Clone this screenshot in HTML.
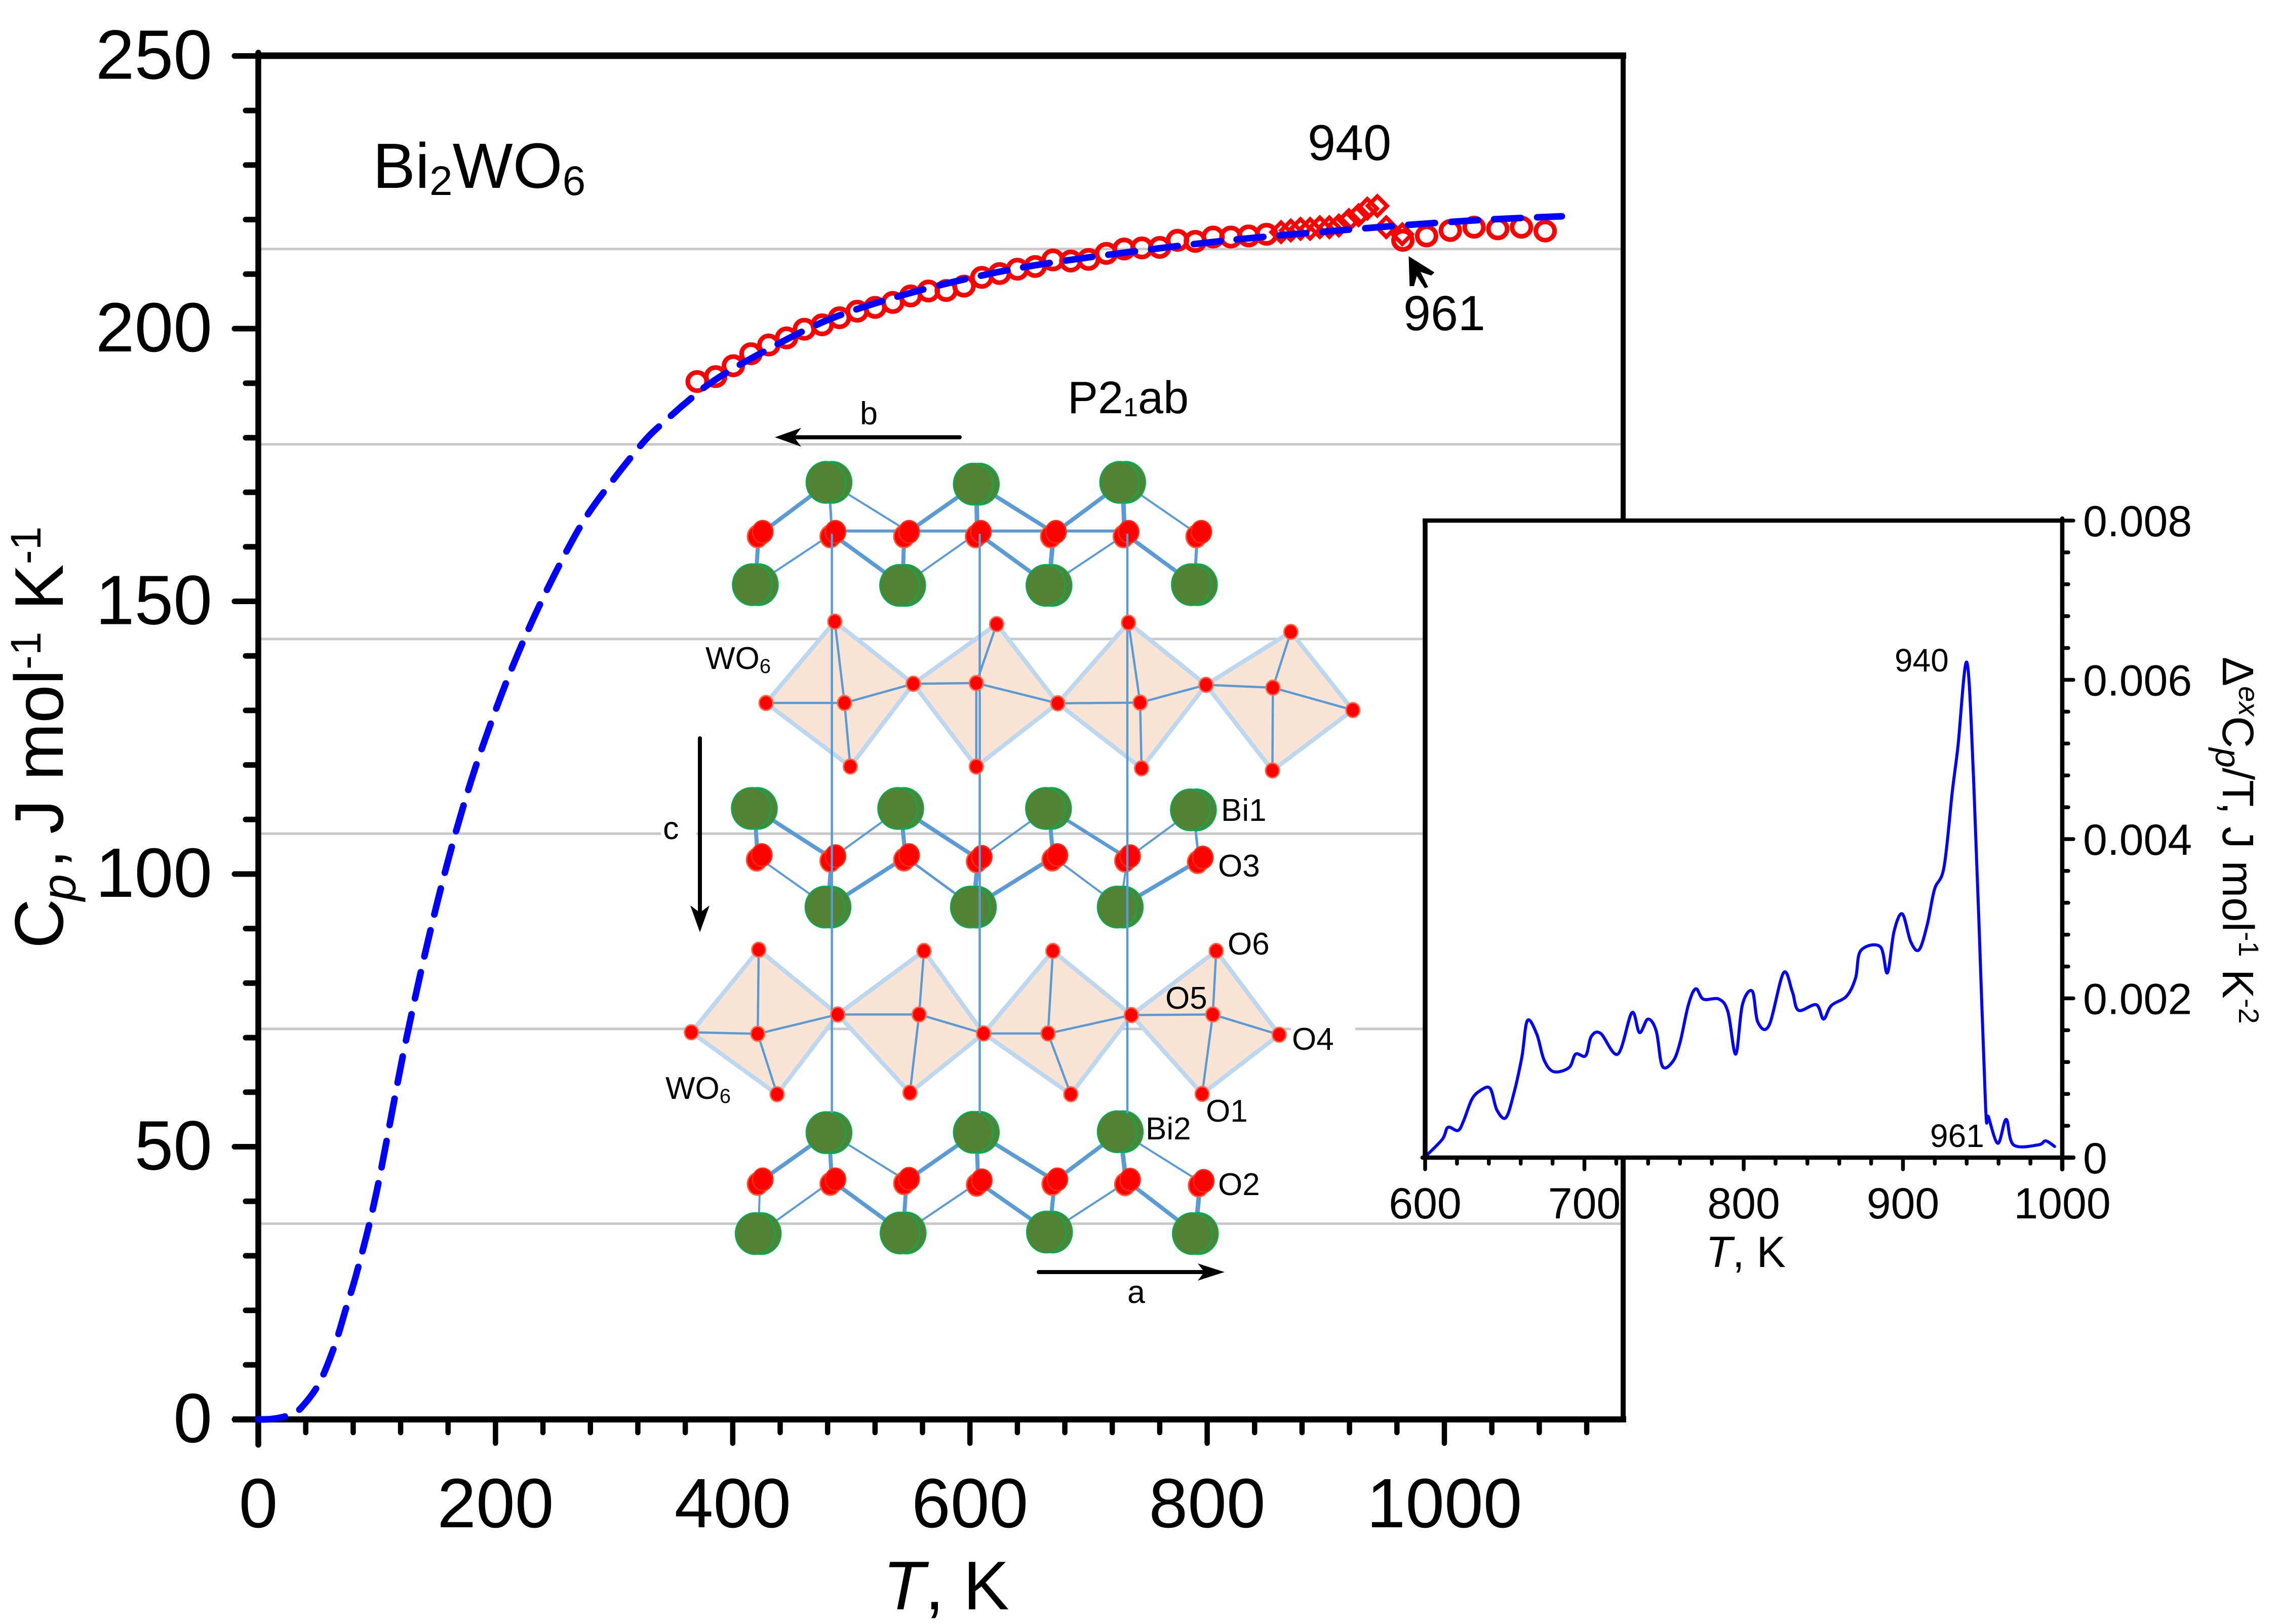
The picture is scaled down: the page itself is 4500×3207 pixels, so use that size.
<!DOCTYPE html>
<html lang="en">
<head>
<meta charset="utf-8">
<title>Bi2WO6 heat capacity</title>
<style>
html,body{margin:0;padding:0;background:#fff;}
svg{display:block;}
text{font-family:"Liberation Sans",sans-serif;fill:#000;}
</style>
</head>
<body>
<svg id="chart" xmlns="http://www.w3.org/2000/svg" width="4500" height="3207" viewBox="0 0 4500 3207">
<rect x="0" y="0" width="4500" height="3207" fill="#fff"/>
<g id="grid"></g>
<g id="mainAxes"></g>
<g id="mainData"></g>
<g id="crystal"></g>
<g id="crystalLabels" font-size="62">
<rect x="2549" y="2025" width="127" height="16" fill="#fff"/>
<rect x="1305" y="1640" width="70" height="16" fill="#fff"/>
<text x="1393" y="1321">WO<tspan font-size="40" dy="8">6</tspan></text>
<text x="1314" y="2170">WO<tspan font-size="40" dy="8">6</tspan></text>
<text x="2411" y="1621">Bi1</text>
<text x="2405" y="1731">O3</text>
<text x="2424" y="1885">O6</text>
<text x="2301" y="1992">O5</text>
<text x="2551" y="2073">O4</text>
<text x="2381" y="2215">O1</text>
<text x="2262" y="2250">Bi2</text>
<text x="2405" y="2360">O2</text>
<text x="1698" y="838" font-size="63">b</text>
<text x="1309" y="1657" font-size="63">c</text>
<text x="2226" y="2573" font-size="63">a</text>
<g><line x1="1895" y1="863.5" x2="1560" y2="863.5" stroke="#000" stroke-width="8" stroke-linecap="round"/><polygon points="1530,863.5 1582,845 1568,863.5 1582,882" fill="#000"/></g>
<g><line x1="1382" y1="1458" x2="1382" y2="1810" stroke="#000" stroke-width="8" stroke-linecap="round"/><polygon points="1382,1841 1363,1788 1382,1802 1401,1788" fill="#000"/></g>
<g><line x1="2051" y1="2512" x2="2390" y2="2512" stroke="#000" stroke-width="8" stroke-linecap="round"/><polygon points="2418,2512 2365,2495 2378,2512 2365,2529" fill="#000"/></g>
</g>
<text x="736" y="371" font-size="126">Bi<tspan font-size="82" dy="14">2</tspan><tspan dy="-14">WO</tspan><tspan font-size="82" dy="14">6</tspan></text>
<text x="2108" y="816" font-size="90">P2<tspan font-size="52" dy="6">1</tspan><tspan dy="-6">ab</tspan></text>
<text x="2582" y="316" font-size="99">940</text>
<text x="2771" y="652" font-size="97">961</text>
<polygon points="2781.5,506 2832.5,538 2826,544 2805,537 2820,567 2813.4,569 2797.5,545 2792,565 2783.4,565" fill="#000"/>
<text x="1868" y="3178" font-size="136" text-anchor="middle"><tspan font-style="italic">T</tspan>, K</text>
<text transform="translate(124,1873) rotate(-90)" font-size="136">C<tspan x="94" dy="25" font-size="95" font-style="italic">p</tspan><tspan x="158" dy="-25">,</tspan><tspan x="226">J mol</tspan><tspan font-size="84" dy="-44">-1</tspan><tspan x="668" dy="44">K</tspan><tspan font-size="84" dy="-44">-1</tspan></text>
<g id="inset"></g>
<text x="3447" y="2502" font-size="86" text-anchor="middle"><tspan font-style="italic">T</tspan>, K</text>
<text transform="translate(4389,1297) rotate(90)" font-size="87">&#916;<tspan font-size="56" dy="-32" font-style="italic">ex</tspan><tspan dy="32">C</tspan><tspan font-size="70" dy="14" font-style="italic">p</tspan><tspan dy="-14">/T, J mol</tspan><tspan font-size="56" dy="-32">-1</tspan><tspan dy="32"> K</tspan><tspan font-size="56" dy="-32">-2</tspan></text>
<text x="3741" y="1326" font-size="64">940</text>
<text x="3811" y="2265" font-size="64">961</text>
</svg>
<script>
// ---- Chart data ----
const mainXTicks = [0, 200, 400, 600, 800, 1000];
const mainYTicks = [0, 50, 100, 150, 200, 250];
const fitT = [0, 10, 20, 28, 36, 51, 64, 74, 84, 100, 125, 150, 175, 200, 225, 250, 275, 300, 319, 328, 336, 354, 361, 381, 416, 478, 541, 609, 675, 777, 846, 900, 968, 1037, 1099];
const fitCp = [0, 0.05, 0.4, 1, 2.1, 6.5, 13.3, 20.4, 27.7, 42, 70, 94, 114, 130, 143.5, 155, 165, 172.5, 177.7, 180, 181.7, 185.2, 186.5, 190, 194.6, 201.4, 206, 209.7, 212.3, 215.2, 216.8, 217.8, 219, 220, 220.6];
const circleT = [370, 385.6, 400.5, 415.4, 430.4, 445.4, 460.4, 475.4, 490, 505, 520, 535, 550, 565, 580, 595, 610, 625, 640, 655, 670, 685, 700, 715, 730, 745, 760, 775, 790, 805, 820, 835, 850, 965, 985, 1005, 1025, 1045, 1065, 1085];
const circleCp = [190.3, 191.2, 193.2, 195.4, 197, 198.3, 199.9, 200.7, 202, 203.2, 203.9, 204.8, 206, 206.9, 207, 207.8, 209.4, 210.1, 210.9, 211.4, 212.6, 212.4, 212.7, 213.8, 214.6, 214.8, 214.9, 216.2, 216, 216.8, 216.8, 217, 217.3, 216.2, 217, 218, 218.6, 218.3, 218.6, 217.9];
const diamondT = [862.3, 870.5, 878.7, 886.8, 895, 903, 911, 919.5, 927.7, 935, 943.5, 951, 964.5];
const diamondCp = [217.7, 218, 218.3, 218.3, 218.6, 218.6, 218.9, 219.9, 220.8, 222, 222.5, 218.6, 217.3];
const gridValues = [214.6, 178.8, 143.1, 107.4, 71.6, 35.9];
const insetXTicks = [600, 700, 800, 900, 1000];
const insetYTicks = [0, 0.002, 0.004, 0.006, 0.008];
const insetYTickLabels = ['0', '0.002', '0.004', '0.006', '0.008'];
const excessT = [600, 610.8, 614.3, 620.6, 624.1, 629.3, 634.5, 640.8, 645, 650.6, 655.5, 660.7, 664.2, 670.1, 674.6, 680.6, 690.3, 694.5, 700.8, 704.3, 710.2, 721, 729.8, 734.6, 739.9, 745.1, 748.9, 755.6, 760.1, 765.3, 769.9, 774.7, 784.5, 790.1, 795, 799.2, 805.4, 808.9, 815.9, 825, 830.6, 834.4, 845.6, 850.1, 855, 864.7, 870.3, 873.5, 885.7, 890.2, 894.4, 899.6, 904.9, 910.1, 915.3, 919.8, 925.8, 931, 934.5, 940.1, 944.3, 947.7, 951.9, 953.7, 959.6, 964.8, 969.4, 985, 989.6, 995.2];
const excessValue = [0.00001, 0.00023, 0.00038, 0.00034, 0.00046, 0.00073, 0.00084, 0.00087, 0.0006, 0.0005, 0.00079, 0.00126, 0.00172, 0.00155, 0.00123, 0.00108, 0.00113, 0.0013, 0.00128, 0.00152, 0.00156, 0.0013, 0.00182, 0.00157, 0.00174, 0.00159, 0.00115, 0.00121, 0.00145, 0.00192, 0.00212, 0.00199, 0.00199, 0.00183, 0.0013, 0.00192, 0.00209, 0.0017, 0.00166, 0.00232, 0.00208, 0.00185, 0.00192, 0.00174, 0.00191, 0.00203, 0.00226, 0.0026, 0.00265, 0.00232, 0.00284, 0.00306, 0.00271, 0.00261, 0.00293, 0.00337, 0.00365, 0.0046, 0.00516, 0.00622, 0.00478, 0.00296, 0.00063, 0.00051, 0.00018, 0.00048, 0.00016, 0.00016, 0.00021, 0.00014];

// ---- Axis functions ----
const NS = 'http://www.w3.org/2000/svg';
function sx(t) { return 510 + t * 2.342; }
function sy(v) { return 2803 - v * 10.77; }
function ix(t) { return 2814 + (t - 600) * 3.145; }
function iy(v) { return 2286 - v * 157250; }

function svgEl(parent, tag, attrs, text) {
  const e = document.createElementNS(NS, tag);
  for (const k in attrs) e.setAttribute(k, attrs[k]);
  if (text !== undefined) e.textContent = text;
  parent.appendChild(e);
  return e;
}
function smoothPath(px, py) {
  let d = 'M' + px[0].toFixed(1) + ' ' + py[0].toFixed(1);
  for (let i = 0; i < px.length - 1; i++) {
    const a = Math.max(i - 1, 0), b = Math.min(i + 2, px.length - 1);
    const c1x = px[i] + (px[i + 1] - px[a]) / 6, c1y = py[i] + (py[i + 1] - py[a]) / 6;
    const c2x = px[i + 1] - (px[b] - px[i]) / 6, c2y = py[i + 1] - (py[b] - py[i]) / 6;
    d += 'C' + c1x.toFixed(1) + ' ' + c1y.toFixed(1) + ' ' + c2x.toFixed(1) + ' ' + c2y.toFixed(1) + ' ' + px[i + 1].toFixed(1) + ' ' + py[i + 1].toFixed(1);
  }
  return d;
}

// ---- Gridlines ----
const gridG = document.getElementById('grid');
gridValues.forEach(function (v, i) {
  const right = i < 2 || i === 5 ? 3200 : 2815;
  const gl = svgEl(gridG, 'line', { x1: 515, x2: right, y1: sy(v), y2: sy(v), stroke: '#c8c8c8', 'stroke-width': 5 });
  
  
});

// ---- Main axes ----
const axesG = document.getElementById('mainAxes');
const frameTop = svgEl(axesG, 'line', { x1: 506, x2: 3211, y1: 110, y2: 110, stroke: '#000', 'stroke-width': 13 });


const frameLeft = svgEl(axesG, 'line', { x1: 510, x2: 510, y1: 104, y2: 2853, stroke: '#000', 'stroke-width': 11.5, 'stroke-linecap': 'round' });


const frameBottom = svgEl(axesG, 'line', { x1: 460, x2: 3211, y1: 2803, y2: 2803, stroke: '#000', 'stroke-width': 12 });


const frameRightTop = svgEl(axesG, 'line', { x1: 3205, x2: 3205, y1: 104, y2: 1028, stroke: '#000', 'stroke-width': 10 });


const frameRightBottom = svgEl(axesG, 'line', { x1: 3205, x2: 3205, y1: 2286, y2: 2809, stroke: '#000', 'stroke-width': 10 });



for (let t = 0; t <= 1120; t += 40) {
  const major = mainXTicks.indexOf(t) >= 0;
  if (t > 0) {
    const tk = svgEl(axesG, 'line', { x1: sx(t), x2: sx(t), y1: 2803, y2: major ? 2850 : 2829, stroke: '#000', 'stroke-width': 10.5, 'stroke-linecap': 'round' });
    
    
  }
}
mainXTicks.forEach(function (t) {
  const lb = svgEl(axesG, 'text', { x: sx(t), y: 3016, 'font-size': 138, 'text-anchor': 'middle' }, String(t));
  
  
});
for (let v = 0; v <= 250; v += 10) {
  const major = mainYTicks.indexOf(v) >= 0;
  const tk = svgEl(axesG, 'line', { x1: 510, x2: major ? 463 : 485, y1: sy(v), y2: sy(v), stroke: '#000', 'stroke-width': 11, 'stroke-linecap': 'round' });
  
  
}
mainYTicks.forEach(function (v) {
  const lb = svgEl(axesG, 'text', { x: 419, y: sy(v) + 45, 'font-size': 138, 'text-anchor': 'end' }, String(v));
  
  
});

// ---- Main data ----
const dataG = document.getElementById('mainData');
circleT.forEach(function (t, i) {
  const c = svgEl(dataG, 'ellipse', { cx: sx(t), cy: sy(circleCp[i]), rx: 18.5, ry: 18, fill: 'none', stroke: '#ff0000', 'stroke-width': 9 });
  
  
});
diamondT.forEach(function (t, i) {
  const x = sx(t), y = sy(diamondCp[i]), h = 19;
  const d = svgEl(dataG, 'polygon', { points: x + ',' + (y - h) + ' ' + (x + h) + ',' + y + ' ' + x + ',' + (y + h) + ' ' + (x - h) + ',' + y, fill: 'none', stroke: '#ff0000', 'stroke-width': 8 });
  
  
});
const fitLine = svgEl(dataG, 'path', { d: smoothPath(fitT.map(sx), fitCp.map(sy)), fill: 'none', stroke: '#0000ff', 'stroke-width': 13, 'stroke-linecap': 'round', 'stroke-linejoin': 'round', 'stroke-dasharray': '53 32' });



// ---- Inset ----
const insetG = document.getElementById('inset');
const insetBg = svgEl(insetG, 'rect', { x: 2814, y: 1028, width: 1258, height: 1258, fill: '#fff' });


const insetLine = svgEl(insetG, 'path', { d: smoothPath(excessT.map(ix), excessValue.map(iy)), fill: 'none', stroke: '#0000ff', 'stroke-width': 6, 'stroke-linecap': 'round', 'stroke-linejoin': 'round' });


const insetTop = svgEl(insetG, 'line', { x1: 2809, x2: 4076, y1: 1028, y2: 1028, stroke: '#000', 'stroke-width': 8.5 });


const insetLeft = svgEl(insetG, 'line', { x1: 2814, x2: 2814, y1: 1024, y2: 2290, stroke: '#000', 'stroke-width': 9.5 });


const insetBottom = svgEl(insetG, 'line', { x1: 2809, x2: 4094, y1: 2286, y2: 2286, stroke: '#000', 'stroke-width': 8.5, 'stroke-linecap': 'round' });


const insetRight = svgEl(insetG, 'line', { x1: 4072, x2: 4072, y1: 1024, y2: 2309, stroke: '#000', 'stroke-width': 8.5, 'stroke-linecap': 'round' });


for (let t = 600; t < 1000; t += 20) {
  const major = insetXTicks.indexOf(t) >= 0;
  const tk = svgEl(insetG, 'line', { x1: ix(t), x2: ix(t), y1: 2286, y2: major ? 2309 : 2298, stroke: '#000', 'stroke-width': 7.5, 'stroke-linecap': 'round' });
  
  
}
for (let k = 0; k <= 20; k++) {
  const v = k * 0.0004;
  const major = k % 5 === 0;
  const tk = svgEl(insetG, 'line', { x1: 4072, x2: major ? 4094 : 4084, y1: iy(v), y2: iy(v), stroke: '#000', 'stroke-width': 7.5, 'stroke-linecap': 'round' });
  
  
}
insetXTicks.forEach(function (t) {
  const lb = svgEl(insetG, 'text', { x: ix(t), y: 2406, 'font-size': 86, 'text-anchor': 'middle' }, String(t));
  
  
});
insetYTicks.forEach(function (v, i) {
  const lb = svgEl(insetG, 'text', { x: 4113, y: iy(v) + 31, 'font-size': 86 }, insetYTickLabels[i]);
  
  
});
</script>
<script>
// ---- Crystal structure diagram (decorative schematic, not chart data) ----
(function () {
  const G = document.getElementById('crystal');
  const NS = 'http://www.w3.org/2000/svg';
  function add(tag, attrs) {
    const e = document.createElementNS(NS, tag);
    for (const k in attrs) e.setAttribute(k, attrs[k]);
    G.appendChild(e);
    return e;
  }
  // two measuring frames used when tracing the drawing
  const f1 = function (X, Y) { return [1300 + X / 1.045, 700 + Y / 1.4255]; };
  const f2 = function (X, Y) { return [1300 + X / 1.045, 1750 + Y / 1.65]; };
  const BLUE = '#5b9bd5';

  const octaF1 = [
    [222, 981, 364, 752, 526, 927, 396, 1160, 384, 981],
    [526, 927, 698, 759, 824, 982, 656, 1160, 656, 925],
    [824, 982, 970, 755, 1130, 930, 997, 1165, 994, 980],
    [1130, 930, 1305, 781, 1433, 1001, 1267, 1171, 1268, 938]
  ];
  const octaF2 = [
    [68, 476, 207, 207, 370, 418, 245, 678, 205, 481],
    [370, 418, 548, 211, 671, 480, 519, 673, 538, 418],
    [671, 480, 814, 211, 976, 420, 851, 678, 804, 480],
    [976, 420, 1151, 211, 1281, 484, 1122, 677, 1144, 418]
  ];
  const smallAtoms = [];
  function drawOcta(o, f) {
    const p = [f(o[0], o[1]), f(o[2], o[3]), f(o[4], o[5]), f(o[6], o[7])];
    const c = f(o[8], o[9]);
    const poly = add('polygon', { points: p.map(function (q) { return q[0] + ',' + q[1]; }).join(' '), fill: '#f9e4d6', stroke: '#bdd7ee', 'stroke-width': 8.5, 'stroke-linejoin': 'round' });
    
    
    p.forEach(function (q) {
      const l = add('line', { x1: c[0], y1: c[1], x2: q[0], y2: q[1], stroke: BLUE, 'stroke-width': 4.5 });
      
      
      smallAtoms.push(q);
    });
    smallAtoms.push(c);
  }
  octaF1.forEach(function (o) { drawOcta(o, f1); });
  octaF2.forEach(function (o) { drawOcta(o, f2); });

  const bondsF1 = [
    [200,648,207,508,8],[352,360,217,498,8],[352,360,358,500,5],[352,360,512,495,4],[358,505,200,648,4],[358,505,504,650,8],
    [656,365,517,498,8],[656,365,658,505,9],[656,365,812,498,8],[504,650,507,510,8],[504,650,650,510,4],[806,650,815,510,9],
    [806,650,960,510,4],[660,505,806,650,8],[958,360,822,498,8],[958,360,962,505,9],[958,360,1112,505,4],[968,510,1106,648,8],
    [1106,648,1112,510,6],[358,497,960,497,6],
    [198,1278,205,1415,8],[198,1278,358,1418,8],[500,1278,358,1418,4],[500,1278,510,1415,8],[500,1278,660,1420,8],[805,1278,660,1420,4],
    [805,1278,815,1415,8],[805,1278,968,1418,7],[1104,1282,968,1418,4],[1104,1282,1115,1420,5],
    [350,1555,205,1415,4],[350,1555,358,1418,9],[350,1555,510,1415,8],[650,1555,510,1415,5],[650,1555,660,1420,9],[650,1555,815,1415,8],
    [953,1555,815,1415,4],[953,1555,968,1418,4],[953,1555,1118,1422,8]
  ];
  const bondsF2 = [
    [352,803,210,962,8],[352,803,358,960,8],[352,803,512,960,4],[656,802,512,960,8],[656,802,660,965,8],[656,802,818,960,8],
    [953,800,818,960,8],[953,800,965,962,9],[953,800,1120,965,4],
    [206,1132,210,962,4],[206,1132,358,960,4],[505,1130,358,960,8],[505,1130,512,960,8],[505,1130,660,965,4],[807,1127,660,965,8],
    [807,1127,818,960,8],[807,1127,968,962,4],[1108,1132,968,962,8],[1108,1132,1118,965,9]
  ];
  function drawBond(b, f) {
    const a = f(b[0], b[1]), c = f(b[2], b[3]);
    const l = add('line', { x1: a[0], y1: a[1], x2: c[0], y2: c[1], stroke: BLUE, 'stroke-width': b[4] });
    
    
  }
  bondsF1.forEach(function (b) { drawBond(b, f1); });
  bondsF2.forEach(function (b) { drawBond(b, f2); });

  const biF1 = [[352,360],[656,365],[958,360],[200,648],[504,650],[806,650],[1106,648],[198,1278],[500,1278],[805,1278],[1104,1282]];
  const biF2 = [[350,68],[650,68],[953,68],[352,803],[656,802],[953,800],[206,1132],[505,1130],[807,1127],[1108,1132]];
  function drawBi(a, f) {
    const p = f(a[0], a[1]);
    [6, -6].forEach(function (off) {
      const e = add('ellipse', { cx: p[0] + off, cy: p[1], rx: 39, ry: 41, fill: '#548235', stroke: '#00b050', 'stroke-width': 2.5 });
      
      
    });
  }
  biF1.forEach(function (a) { drawBi(a, f1); });
  biF2.forEach(function (a) { drawBi(a, f2); });

  const oF1 = [[210,505],[360,505],[512,505],[660,505],[815,505],[965,505],[1115,505],[208,1415],[360,1418],[512,1415],[662,1420],[818,1415],[968,1418],[1118,1422]];
  const oF2 = [[210,962],[360,962],[512,960],[662,965],[818,962],[968,963],[1120,967]];
  function drawO(a, f) {
    const p = f(a[0], a[1]);
    [[-5, 5, '#ff5a36'], [5, -4, '#ff2a10']].forEach(function (s) {
      const e = add('ellipse', { cx: p[0] + s[0], cy: p[1] + s[1], rx: 20, ry: 22, fill: '#ff0000', stroke: s[2], 'stroke-width': 3 });
      
      
    });
  }
  oF1.forEach(function (a) { drawO(a, f1); });
  oF2.forEach(function (a) { drawO(a, f2); });

  [1642.6, 1934.5, 2226].forEach(function (x) {
    const l = add('line', { x1: x, y1: 1054, x2: x, y2: 2198, stroke: BLUE, 'stroke-width': 4.5 });
    
    
  });

  smallAtoms.forEach(function (p) {
    const e = add('ellipse', { cx: p[0], cy: p[1], rx: 13.5, ry: 14.5, fill: '#ff0000', stroke: '#ff6a4a', 'stroke-width': 3 });
    
    
  });
})();
</script>
</body>
</html>
